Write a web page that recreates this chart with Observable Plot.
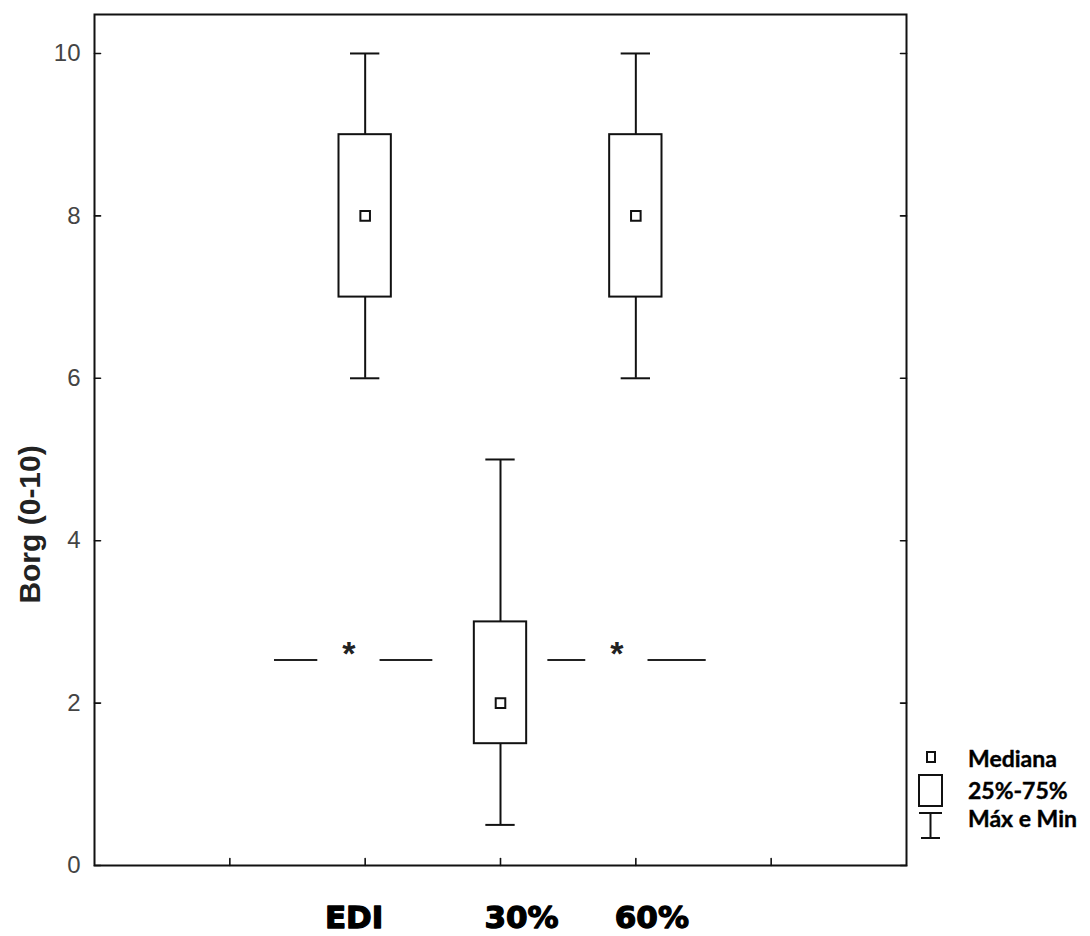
<!DOCTYPE html>
<html>
<head>
<meta charset="utf-8">
<script src="https://cdn.jsdelivr.net/npm/d3@7"></script>
<script src="https://cdn.jsdelivr.net/npm/@observablehq/plot@0.6"></script>
<style>
  body { margin: 0; background: #fff; }
  #wrap { position: relative; width: 1090px; height: 936px; }
  #wrap svg.legend { position: absolute; left: 0; top: 0; }
</style>
</head>
<body>
<div id="wrap"></div>
<script>
// Borg dyspnoea scores (0-10) per condition
const groups = ["EDI", "30%", "60%"];
const positions = [2, 3, 4];
const maxima = [10, 5, 10];
const upperQuartiles = [9, 3, 9];
const medians = [8, 2, 8];
const lowerQuartiles = [7, 1.5, 7];
const minima = [6, 0.5, 6];

const yTicks = [0, 2, 4, 6, 8, 10];
const xTicks = [1, 2, 3, 4, 5];

// significance marks: line pieces either side of an asterisk
const sigLevel = 2.53;
const sigSegments = [[1.33, 1.65], [2.11, 2.5], [3.35, 3.63], [4.09, 4.52]];
const sigStars = [1.88, 3.86];

const legendItems = ["Mediana", "25%-75%", "Máx e Min"];

const boxes = groups.map((g, i) => ({
  group: g, pos: positions[i],
  max: maxima[i], q3: upperQuartiles[i], med: medians[i],
  q1: lowerQuartiles[i], min: minima[i]
}));

// straight tick stroke for vector marks
const tickShape = { draw(ctx, l) { ctx.moveTo(0, 0); ctx.lineTo(0, -l); } };
const ink = "#111";
const sans = "'Liberation Sans', Arial, sans-serif";
const labelShift = [-11, 21, 16];
const titleCenter = 4.2; // vertical centre of the rotated axis title, in score units

const chart = Plot.plot({
  width: 1090,
  height: 936,
  marginLeft: 94,
  marginRight: 184,
  marginTop: 14,
  marginBottom: 71,
  style: { fontFamily: sans, background: "white" },
  x: { domain: [0, 6], axis: null },
  y: { domain: [0, 10.48], axis: null },
  marks: [
    Plot.frame({ stroke: ink, strokeWidth: 2 }),
    // inward ticks
    Plot.vector(yTicks, { y: d => d, frameAnchor: "left", rotate: 90, length: 6, anchor: "start", shape: tickShape, stroke: ink, strokeWidth: 1.6 }),
    Plot.vector(yTicks, { y: d => d, frameAnchor: "right", rotate: -90, length: 6, anchor: "start", shape: tickShape, stroke: ink, strokeWidth: 1.6 }),
    Plot.vector(xTicks, { x: d => d, frameAnchor: "bottom", rotate: 0, length: 7, anchor: "start", shape: tickShape, stroke: ink, strokeWidth: 1.6 }),
    Plot.axisY(yTicks, { anchor: "left", tickSize: 0, tickPadding: 14, tickFormat: d => String(d), fontSize: 24, fontFamily: sans, color: "#444", label: null }),
    // whiskers
    Plot.ruleX(boxes, { x: "pos", y1: "min", y2: "q1", stroke: ink, strokeWidth: 2 }),
    Plot.ruleX(boxes, { x: "pos", y1: "q3", y2: "max", stroke: ink, strokeWidth: 2 }),
    Plot.ruleY(boxes, { y: "max", x1: d => d.pos - 0.5, x2: d => d.pos + 0.5, insetLeft: 53, insetRight: 53, stroke: ink, strokeWidth: 2 }),
    Plot.ruleY(boxes, { y: "min", x1: d => d.pos - 0.5, x2: d => d.pos + 0.5, insetLeft: 53, insetRight: 53, stroke: ink, strokeWidth: 2 }),
    // interquartile boxes
    Plot.rect(boxes, { x1: d => d.pos - 0.5, x2: d => d.pos + 0.5, y1: "q1", y2: "q3", insetLeft: 41.5, insetRight: 41.5, fill: "white", stroke: ink, strokeWidth: 2 }),
    // medians
    Plot.dot(boxes, { x: "pos", y: "med", symbol: "square", r: 5.4, fill: "white", stroke: ink, strokeWidth: 2 }),
    // significance
    Plot.ruleY(sigSegments, { y: sigLevel, x1: d => d[0], x2: d => d[1], stroke: "#222", strokeWidth: 2 }),
    Plot.text(sigStars, { x: d => d, y: sigLevel, text: () => "*", fontSize: 34, fontWeight: "bold", fontFamily: sans, dy: -6, fill: "#222" }),
    // axis title
    Plot.text(["Borg (0-10)"], { frameAnchor: "left", y: titleCenter, dx: -64, rotate: -90, textAnchor: "middle", text: d => d, fontSize: 30, fontWeight: "bold", fontFamily: sans, fill: "#222" }),
    // group labels
    ...groups.map((g, i) => Plot.text([g], {
      x: positions[i], frameAnchor: "bottom", dy: 62, dx: labelShift[i], text: d => d,
      lineAnchor: "bottom", fontSize: 31, fontWeight: "bold", fontFamily: "'DejaVu Sans', sans-serif",
      fill: "black", stroke: "black", strokeWidth: 1.3
    }))
  ]
});

const wrap = document.getElementById("wrap");
wrap.appendChild(chart);

// key drawn beside the frame
const legend = d3.create("svg")
  .attr("class", "legend")
  .attr("width", 1090).attr("height", 936);
const g = legend.append("g").attr("stroke", ink).attr("stroke-width", 2).attr("fill", "white");
g.append("rect").attr("x", 927).attr("y", 752).attr("width", 8).attr("height", 10);
g.append("rect").attr("x", 919).attr("y", 775).attr("width", 23).attr("height", 31);
g.append("line").attr("x1", 919).attr("x2", 942).attr("y1", 813).attr("y2", 813);
g.append("line").attr("x1", 930.5).attr("x2", 930.5).attr("y1", 813).attr("y2", 838);
g.append("line").attr("x1", 921).attr("x2", 940).attr("y1", 838).attr("y2", 838);
const baselines = [767, 799, 827];
legend.append("g")
  .selectAll("text").data(legendItems).join("text")
  .attr("x", 968).attr("y", (d, i) => baselines[i])
  .attr("font-family", "Lato, 'Open Sans', sans-serif")
  .attr("font-weight", "bold").attr("font-size", 23).attr("fill", "black")
  .attr("stroke", "black").attr("stroke-width", 0.4)
  .text(d => d);
wrap.appendChild(legend.node());
</script>
</body>
</html>
